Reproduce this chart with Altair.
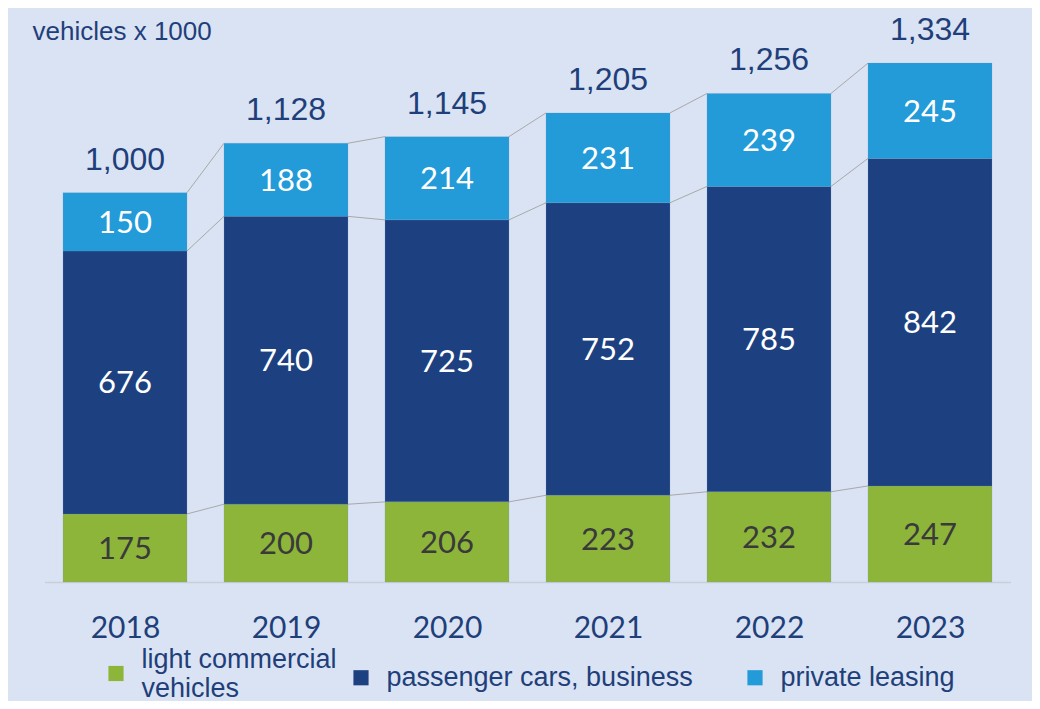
import altair as alt
import pandas as pd

years = ["2018", "2019", "2020", "2021", "2022", "2023"]
series = ["light commercial vehicles", "passenger cars, business", "private leasing"]
lcv = [175, 200, 206, 223, 232, 247]
pcb = [676, 740, 725, 752, 785, 842]
pl = [150, 188, 214, 231, 239, 245]
totals = [1000, 1128, 1145, 1205, 1256, 1334]
colors = ["#8db53a", "#1d4180", "#229bd8"]

BG = "#dae3f3"
NAVY = "#1f3f7a"
HALF = 0.385  # half bar width, in category steps

rows = []
for i, y in enumerate(years):
    base = 0
    for s, vals in zip(series, [lcv, pcb, pl]):
        v = vals[i]
        rows.append({"idx": i, "l": i - HALF, "r": i + HALF, "series": s, "value": v,
                     "y0": base, "y1": base + v, "mid": base + v / 2})
        base += v
seg = pd.DataFrame(rows)
seg_green = seg[seg["series"] == series[0]]
seg_blue = seg[seg["series"] != series[0]]

tot = pd.DataFrame({"idx": list(range(len(years))), "total": totals,
                    "top": [a + b + c for a, b, c in zip(lcv, pcb, pl)]})

levels = [
    list(lcv),
    [a + b for a, b in zip(lcv, pcb)],
    [a + b + c for a, b, c in zip(lcv, pcb, pl)],
]
links = []
for lv in levels:
    for i in range(len(years) - 1):
        links.append({"xa": i + HALF, "xb": i + 1 - HALF, "v": lv[i], "vn": lv[i + 1]})
links = pd.DataFrame(links)

year_expr = "[" + ",".join("'%s'" % y for y in years) + "][datum.value]"
xscale = alt.Scale(domain=[-0.5, len(years) - 0.5], nice=False, zero=False)
yscale = alt.Scale(domain=[0, 1450])

xaxis = alt.Axis(title=None, values=list(range(len(years))), labelExpr=year_expr,
                 ticks=False, domainColor="#c9cfd8", domainWidth=1.5,
                 labelFont="Lato", labelFontSize=30, labelColor=NAVY,
                 labelPadding=46, labelBaseline="middle", grid=False,
                 labelFlush=False, labelOverlap=False)

rules = alt.Chart(links).mark_rule(color="#a8a8a8", strokeWidth=1).encode(
    x=alt.X("xa:Q", scale=xscale, axis=xaxis),
    x2="xb",
    y=alt.Y("v:Q", scale=yscale, axis=None),
    y2="vn",
)

legend_common = dict(title=None, orient="none", direction="horizontal",
                     symbolType="square", symbolSize=230, symbolStrokeWidth=0,
                     labelFont="Liberation Sans", labelFontSize=27, labelColor=NAVY,
                     labelOffset=12, labelLimit=500)

bars_green = alt.Chart(seg_green).mark_bar(stroke="#6f8fc0", strokeWidth=0.5, strokeOpacity=0.4).encode(
    x=alt.X("l:Q", scale=xscale),
    x2="r",
    y=alt.Y("y1:Q", scale=yscale),
    y2="y0",
    color=alt.Color("series:N", scale=alt.Scale(domain=series[:1], range=colors[:1]),
                    legend=alt.Legend(legendX=58, legendY=642, labelBaseline="bottom",
                                      labelExpr="['light commercial', 'vehicles']",
                                      **legend_common)),
)

bars_blue = alt.Chart(seg_blue).mark_bar(stroke="#6f8fc0", strokeWidth=0.5, strokeOpacity=0.4).encode(
    x=alt.X("l:Q", scale=xscale),
    x2="r",
    y=alt.Y("y1:Q", scale=yscale),
    y2="y0",
    fill=alt.Fill("series:N", scale=alt.Scale(domain=series[1:], range=colors[1:]),
                  legend=alt.Legend(legendX=303, legendY=646, columnPadding=48,
                                    labelBaseline="middle", **legend_common)),
)

seglabels = alt.Chart(seg).mark_text(font="Lato", fontSize=31, baseline="middle", dy=2).encode(
    x=alt.X("idx:Q", scale=xscale),
    y=alt.Y("mid:Q", scale=yscale),
    text=alt.Text("value:Q"),
    color=alt.condition(alt.datum.series == series[0], alt.value("#3a3a3a"), alt.value("white")),
)

totlabels = alt.Chart(tot).mark_text(font="Liberation Sans", fontSize=32, baseline="bottom",
                                     dy=-16, color=NAVY).encode(
    x=alt.X("idx:Q", scale=xscale),
    y=alt.Y("top:Q", scale=yscale),
    text=alt.Text("total:Q", format=","),
)

chart = alt.layer(rules, bars_green, bars_blue, seglabels, totlabels).properties(
    width=966, height=564,
    background=BG,
    padding={"left": 36.5, "right": 21.5, "top": 10, "bottom": 119},
    autosize=alt.AutoSizeParams(type="none"),
    title=alt.TitleParams("vehicles x 1000", anchor="start", font="Liberation Sans",
                          fontSize=26, fontWeight="normal", color=NAVY,
                          dx=-12, dy=48, baseline="middle"),
).configure_view(stroke=None)

chart.save("out.html", embed_options={"renderer": "svg", "actions": False})
